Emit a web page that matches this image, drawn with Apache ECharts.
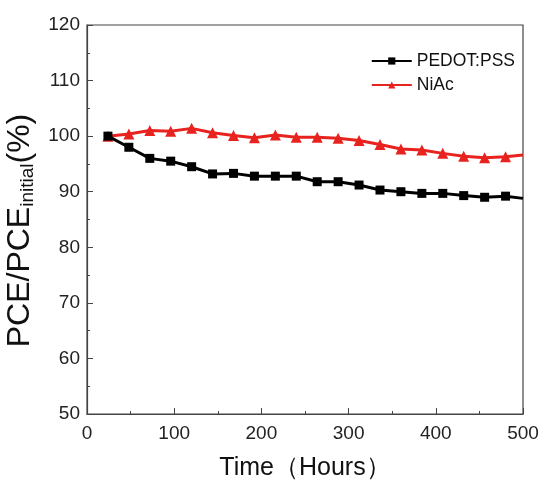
<!DOCTYPE html>
<html><head><meta charset="utf-8">
<script src="https://cdn.jsdelivr.net/npm/echarts@6/dist/echarts.min.js"></script>
<style>html,body{margin:0;padding:0;background:#fff}#c{width:542px;height:481px}</style>
</head><body><div id="c"></div>
<script>
const hours = [24,48,72,96,120,144,168,192,216,240,264,288,312,336,360,384,408,432,456,480,500];
const pedot = [100,98,96,95.5,94.5,93.2,93.3,92.8,92.8,92.8,91.8,91.8,91.2,90.3,90,89.7,89.7,89.3,89,89.2,88.8];
const niac = [100,100.4,101,100.9,101.4,100.6,100.1,99.7,100.2,99.8,99.8,99.6,99.2,98.5,97.7,97.5,96.9,96.4,96.1,96.3,96.6];
const xTicks = [0,100,200,300,400,500];
const yTicks = [50,60,70,80,90,100,110,120];

function pts(vals){
  return hours.map((h,i)=> i===hours.length-1 ? {value:[h,vals[i]], symbolSize:0} : [h, vals[i]]);
}
const chart = echarts.init(document.getElementById('c'));
const font = 'Liberation Sans, Arial, sans-serif';
chart.setOption({
  backgroundColor:'#fff',
  animation:false,
  grid:{left:87,right:19,top:25,bottom:67,show:true,borderColor:'#444',borderWidth:1.2,backgroundColor:'transparent',
        containLabel:false, outerBoundsMode:'none'},
  legend:{
    right:22, top:47, orient:'vertical', itemGap:6, itemWidth:40, itemHeight:9,
    textStyle:{fontFamily:font,fontSize:17.5,color:'#111'},
    data:['PEDOT:PSS','NiAc']
  },
  xAxis:{
    type:'value', min:xTicks[0], max:xTicks[xTicks.length-1], interval:100,
    name:'Time（Hours）', nameLocation:'middle', nameGap:42,
    nameTextStyle:{fontFamily:font,fontSize:25,color:'#111'},
    axisLine:{lineStyle:{color:'#444',width:1.2}},
    axisTick:{inside:true,length:6,lineStyle:{color:'#444'}},
    minorTick:{show:true,splitNumber:2,length:3,lineStyle:{color:'#444'}},
    axisLabel:{fontFamily:font,fontSize:19,color:'#222',margin:10},
    splitLine:{show:false}
  },
  yAxis:{
    type:'value', min:yTicks[0], max:yTicks[yTicks.length-1], interval:10,
    name:'{a|PCE/PCE}{b|initial}{a|(%)}', nameLocation:'middle', nameGap:46,
    nameTextStyle:{fontFamily:font,fontSize:32,color:'#111',padding:[0,22,0,0],
      rich:{a:{fontFamily:font,fontSize:32,color:'#111',lineHeight:34,verticalAlign:'top'},
            b:{fontFamily:font,fontSize:19,color:'#111',lineHeight:34,verticalAlign:'top',padding:[14,0,0,0]}}},
    axisLine:{lineStyle:{color:'#444',width:1.2}},
    axisTick:{inside:true,length:6,lineStyle:{color:'#444'}},
    minorTick:{show:true,splitNumber:2,length:3,lineStyle:{color:'#444'}},
    axisLabel:{fontFamily:font,fontSize:19,color:'#222',margin:7},
    splitLine:{show:false}
  },
  series:[
    {name:'PEDOT:PSS',type:'line',data:pts(pedot),symbol:'rect',symbolSize:9,
     lineStyle:{color:'#000',width:3},itemStyle:{color:'#000'},z:3},
    {name:'NiAc',type:'line',data:pts(niac),symbol:'triangle',symbolSize:11,
     lineStyle:{color:'#e8231f',width:3},itemStyle:{color:'#e8231f'},z:2}
  ]
});
</script></body></html>
